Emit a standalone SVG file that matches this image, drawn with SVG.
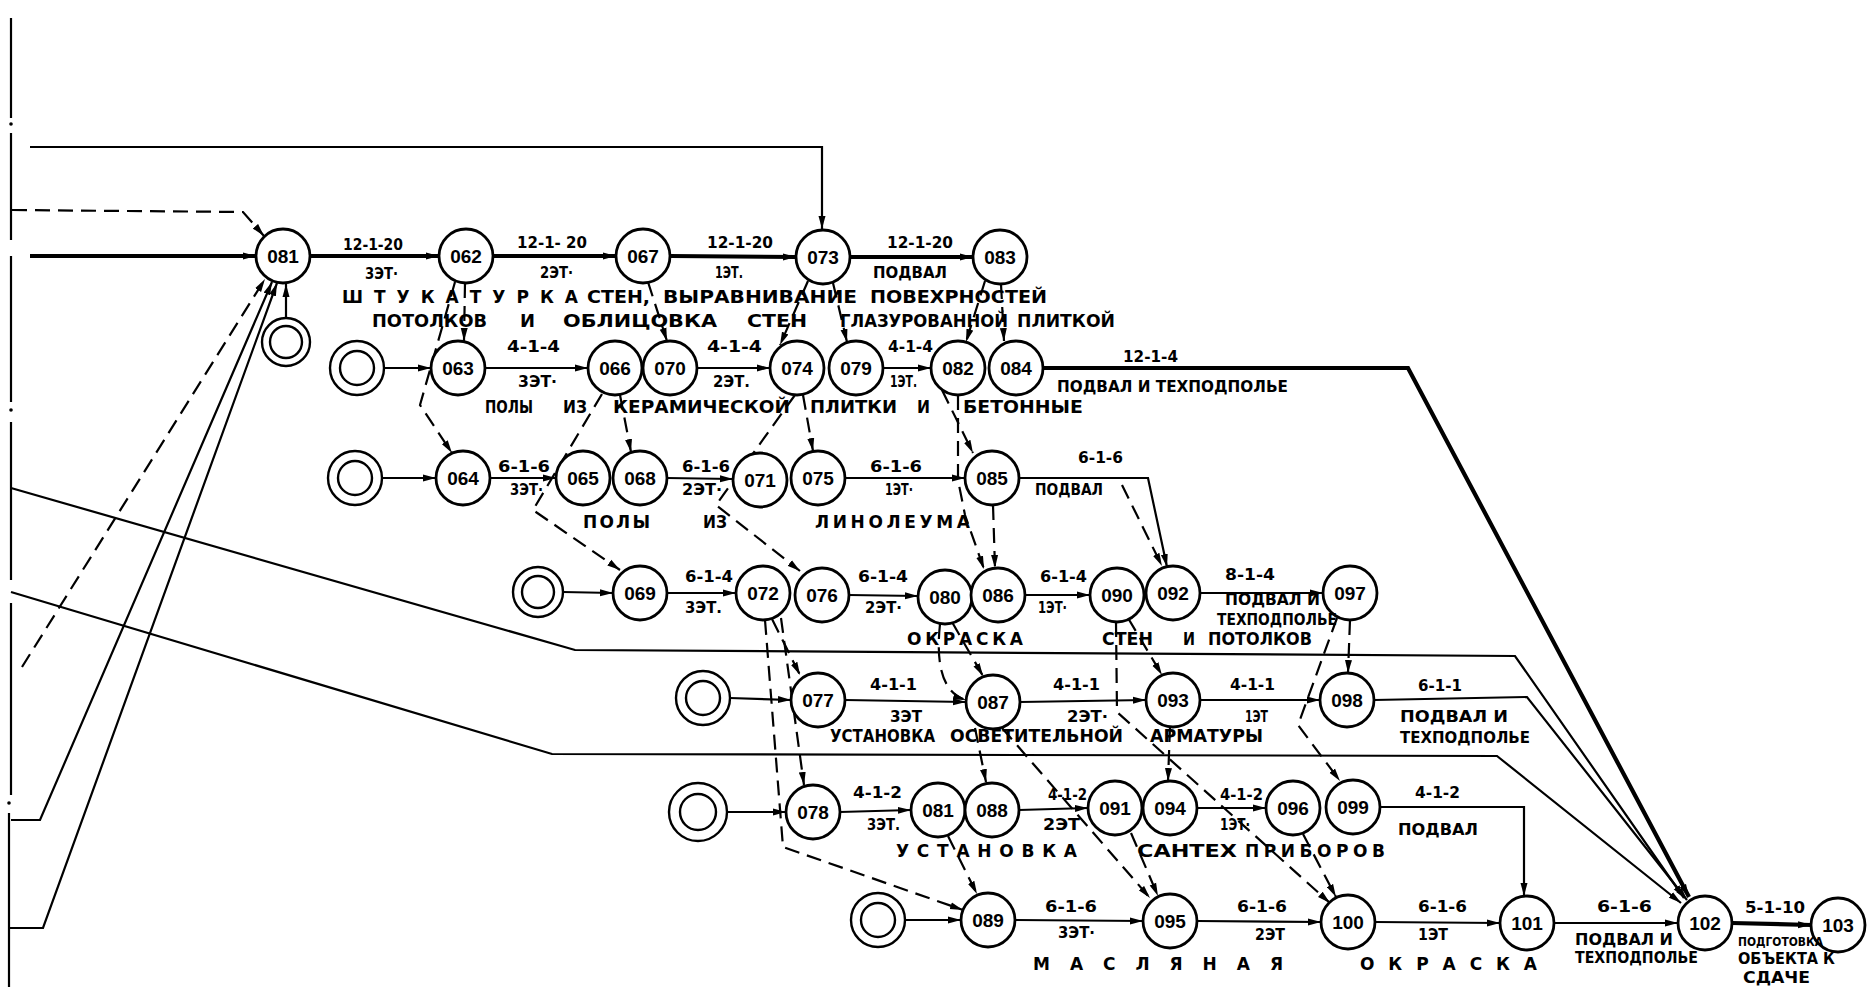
<svg xmlns="http://www.w3.org/2000/svg" width="1874" height="987" viewBox="0 0 1874 987">
<style>
.c{fill:none;stroke:#000;stroke-width:2.2}
.k{fill:none;stroke:#000;stroke-width:4.2}
.d{fill:none;stroke:#000;stroke-width:2.2;stroke-dasharray:15 8}
.n{fill:#fff;stroke:#000;stroke-width:2.8}
.s{fill:#fff;stroke:#000;stroke-width:2.4}
.nt{font-family:"Liberation Sans",Arial,sans-serif;font-weight:bold;font-size:19px;text-anchor:middle}
.l{font-family:"DejaVu Sans","Liberation Sans",sans-serif;font-weight:bold;font-size:15.5px}
.b{font-family:"DejaVu Sans","Liberation Sans",sans-serif;font-weight:bold;font-size:17px}
.m{font-family:"DejaVu Sans","Liberation Sans",sans-serif;font-weight:bold;font-size:12px}
</style>
<defs>
<marker id="a" markerUnits="userSpaceOnUse" markerWidth="14" markerHeight="8" refX="13" refY="4" orient="auto">
<path d="M0,0.5 L13,4 L0,7.5 z" fill="#000"/>
</marker>
</defs>
<rect width="1874" height="987" fill="#fff"/>
<g id="connectors">
<path class="c" d="M11,18 V118 M11,133 V240 M11,256 V402 M11,422 V580 M11,603 V795 M9,813 V987"/>
<circle cx="11" cy="124" r="1.8"/><circle cx="11" cy="410" r="1.8"/><circle cx="9" cy="803" r="1.8"/>
<path class="c" d="M30,147 H822 V229" marker-end="url(#a)"/>
<path class="d" d="M12,210 L243,212 L264,236" marker-end="url(#a)"/>
<path class="k" d="M30,256 H256" marker-end="url(#a)"/>
<path class="d" d="M22,667 L265,279" marker-end="url(#a)"/>
<path class="c" d="M11,820 H40 L272,282" marker-end="url(#a)"/>
<path class="c" d="M9,928 H43 L277,283" marker-end="url(#a)"/>
<path class="c" d="M11,488 L575,650 L1515,656 L1684,898" marker-end="url(#a)"/>
<path class="c" d="M11,592 L552,754 L1497,756 L1681,903" marker-end="url(#a)"/>
<path class="c" d="M286,318 V284" marker-end="url(#a)"/>
<path class="k" d="M310,256 H439" marker-end="url(#a)"/>
<path class="k" d="M493,256 H616" marker-end="url(#a)"/>
<path class="k" d="M670,256 L796,257" marker-end="url(#a)"/>
<path class="k" d="M850,257 H973" marker-end="url(#a)"/>
<path class="c" d="M384,368 H431" marker-end="url(#a)"/>
<path class="c" d="M485,368 H588" marker-end="url(#a)"/>
<path class="c" d="M697,368 H770" marker-end="url(#a)"/>
<path class="c" d="M882,368 H931" marker-end="url(#a)"/>
<path class="k" d="M1042,368 H1408 L1689,897" marker-end="url(#a)"/>
<path class="c" d="M382,478 H436" marker-end="url(#a)"/>
<path class="c" d="M490,478 H556" marker-end="url(#a)"/>
<path class="c" d="M667,478 L733,479" marker-end="url(#a)"/>
<path class="c" d="M845,478 H965" marker-end="url(#a)"/>
<path class="c" d="M1019,478 H1148 L1167,567" marker-end="url(#a)"/>
<path class="c" d="M563,592 L613,593" marker-end="url(#a)"/>
<path class="c" d="M667,593 H736" marker-end="url(#a)"/>
<path class="c" d="M849,595 L918,596" marker-end="url(#a)"/>
<path class="c" d="M1025,595 H1090" marker-end="url(#a)"/>
<path class="c" d="M1200,593 H1323" marker-end="url(#a)"/>
<path class="c" d="M730,698 L791,700" marker-end="url(#a)"/>
<path class="c" d="M845,700 L966,702" marker-end="url(#a)"/>
<path class="c" d="M1020,702 L1146,700" marker-end="url(#a)"/>
<path class="c" d="M1200,700 H1320" marker-end="url(#a)"/>
<path class="c" d="M1374,700 L1527,697 L1687,900" marker-end="url(#a)"/>
<path class="c" d="M727,812 H786" marker-end="url(#a)"/>
<path class="c" d="M840,812 L911,810" marker-end="url(#a)"/>
<path class="c" d="M1019,810 L1088,808" marker-end="url(#a)"/>
<path class="c" d="M1197,808 H1266" marker-end="url(#a)"/>
<path class="c" d="M1380,807 H1524 V896" marker-end="url(#a)"/>
<path class="c" d="M905,920 H961" marker-end="url(#a)"/>
<path class="c" d="M1015,920 L1143,921" marker-end="url(#a)"/>
<path class="c" d="M1197,921 L1321,922" marker-end="url(#a)"/>
<path class="c" d="M1375,922 L1500,923" marker-end="url(#a)"/>
<path class="c" d="M1554,923 H1678" marker-end="url(#a)"/>
<path class="k" d="M1732,923 L1811,925" marker-end="url(#a)"/>
<path class="d" d="M465,283 L464,341" marker-end="url(#a)"/>
<path class="d" d="M455,282 L420,405 L452,453" marker-end="url(#a)"/>
<path class="d" d="M648,282 L667,341" marker-end="url(#a)"/>
<path class="d" d="M808,281 L780,345" marker-end="url(#a)"/>
<path class="d" d="M833,283 L847,342" marker-end="url(#a)"/>
<path class="d" d="M985,281 L966,342" marker-end="url(#a)"/>
<path class="d" d="M1001,284 L1004,341" marker-end="url(#a)"/>
<path class="d" d="M620,395 L631,452" marker-end="url(#a)"/>
<path class="d" d="M602,394 L533,510 L620,570" marker-end="url(#a)"/>
<path class="d" d="M803,395 L813,451" marker-end="url(#a)"/>
<path class="d" d="M795,395 L716,505 L800,571" marker-end="url(#a)"/>
<path class="d" d="M942,390 L973,453" marker-end="url(#a)"/>
<path class="d" d="M958,395 L958,480 L965,515 L984,569" marker-end="url(#a)"/>
<path class="d" d="M993,505 L995,568" marker-end="url(#a)"/>
<path class="d" d="M1122,485 L1162,566" marker-end="url(#a)"/>
<path class="d" d="M772,619 L800,675" marker-end="url(#a)"/>
<path class="d" d="M781,618 L804,785" marker-end="url(#a)"/>
<path class="d" d="M765,620 L783,847 L963,910" marker-end="url(#a)"/>
<path class="d" d="M952,622 L983,676" marker-end="url(#a)"/>
<path class="d" d="M940,624 Q933,690 966,700" marker-end="url(#a)"/>
<path class="d" d="M975,728 L986,782" marker-end="url(#a)"/>
<path class="d" d="M1002,728 L1150,898" marker-end="url(#a)"/>
<path class="d" d="M1128,618 L1162,675" marker-end="url(#a)"/>
<path class="d" d="M1116,622 L1117,712 L1330,903" marker-end="url(#a)"/>
<path class="d" d="M1170,727 L1168,781" marker-end="url(#a)"/>
<path class="d" d="M1350,620 L1348,673" marker-end="url(#a)"/>
<path class="d" d="M1337,618 L1298,725 L1340,781" marker-end="url(#a)"/>
<path class="d" d="M948,836 L977,894" marker-end="url(#a)"/>
<path class="d" d="M1131,833 L1158,896" marker-end="url(#a)"/>
<path class="d" d="M1303,834 L1336,897" marker-end="url(#a)"/>
</g>
<g id="starts">
<g id="s1"><circle class="s" cx="286" cy="342" r="24"/><circle class="s" cx="286" cy="342" r="16"/></g>
<g id="s2"><circle class="s" cx="357" cy="368" r="27"/><circle class="s" cx="357" cy="368" r="17"/></g>
<g id="s3"><circle class="s" cx="355" cy="478" r="27"/><circle class="s" cx="355" cy="478" r="17"/></g>
<g id="s4"><circle class="s" cx="538" cy="592" r="25"/><circle class="s" cx="538" cy="592" r="16"/></g>
<g id="s5"><circle class="s" cx="703" cy="698" r="27"/><circle class="s" cx="703" cy="698" r="17"/></g>
<g id="s6"><circle class="s" cx="698" cy="812" r="29"/><circle class="s" cx="698" cy="812" r="18"/></g>
<g id="s7"><circle class="s" cx="878" cy="920" r="27"/><circle class="s" cx="878" cy="920" r="17"/></g>
</g>
<g id="nodes">
<g id="n081a"><circle class="n" cx="283" cy="256" r="27"/><text class="nt" x="283" y="263">081</text></g>
<g id="n062"><circle class="n" cx="466" cy="256" r="27"/><text class="nt" x="466" y="263">062</text></g>
<g id="n067"><circle class="n" cx="643" cy="256" r="27"/><text class="nt" x="643" y="263">067</text></g>
<g id="n073"><circle class="n" cx="823" cy="257" r="27"/><text class="nt" x="823" y="264">073</text></g>
<g id="n083"><circle class="n" cx="1000" cy="257" r="27"/><text class="nt" x="1000" y="264">083</text></g>
<g id="n063"><circle class="n" cx="458" cy="368" r="27"/><text class="nt" x="458" y="375">063</text></g>
<g id="n066"><circle class="n" cx="615" cy="368" r="27"/><text class="nt" x="615" y="375">066</text></g>
<g id="n070"><circle class="n" cx="670" cy="368" r="27"/><text class="nt" x="670" y="375">070</text></g>
<g id="n074"><circle class="n" cx="797" cy="368" r="27"/><text class="nt" x="797" y="375">074</text></g>
<g id="n079"><circle class="n" cx="856" cy="368" r="27"/><text class="nt" x="856" y="375">079</text></g>
<g id="n082"><circle class="n" cx="958" cy="368" r="27"/><text class="nt" x="958" y="375">082</text></g>
<g id="n084"><circle class="n" cx="1016" cy="368" r="27"/><text class="nt" x="1016" y="375">084</text></g>
<g id="n064"><circle class="n" cx="463" cy="478" r="27"/><text class="nt" x="463" y="485">064</text></g>
<g id="n065"><circle class="n" cx="583" cy="478" r="27"/><text class="nt" x="583" y="485">065</text></g>
<g id="n068"><circle class="n" cx="640" cy="478" r="27"/><text class="nt" x="640" y="485">068</text></g>
<g id="n071"><circle class="n" cx="760" cy="480" r="27"/><text class="nt" x="760" y="487">071</text></g>
<g id="n075"><circle class="n" cx="818" cy="478" r="27"/><text class="nt" x="818" y="485">075</text></g>
<g id="n085"><circle class="n" cx="992" cy="478" r="27"/><text class="nt" x="992" y="485">085</text></g>
<g id="n069"><circle class="n" cx="640" cy="593" r="27"/><text class="nt" x="640" y="600">069</text></g>
<g id="n072"><circle class="n" cx="763" cy="593" r="27"/><text class="nt" x="763" y="600">072</text></g>
<g id="n076"><circle class="n" cx="822" cy="595" r="27"/><text class="nt" x="822" y="602">076</text></g>
<g id="n080"><circle class="n" cx="945" cy="597" r="27"/><text class="nt" x="945" y="604">080</text></g>
<g id="n086"><circle class="n" cx="998" cy="595" r="27"/><text class="nt" x="998" y="602">086</text></g>
<g id="n090"><circle class="n" cx="1117" cy="595" r="27"/><text class="nt" x="1117" y="602">090</text></g>
<g id="n092"><circle class="n" cx="1173" cy="593" r="27"/><text class="nt" x="1173" y="600">092</text></g>
<g id="n097"><circle class="n" cx="1350" cy="593" r="27"/><text class="nt" x="1350" y="600">097</text></g>
<g id="n077"><circle class="n" cx="818" cy="700" r="27"/><text class="nt" x="818" y="707">077</text></g>
<g id="n087"><circle class="n" cx="993" cy="702" r="27"/><text class="nt" x="993" y="709">087</text></g>
<g id="n093"><circle class="n" cx="1173" cy="700" r="27"/><text class="nt" x="1173" y="707">093</text></g>
<g id="n098"><circle class="n" cx="1347" cy="700" r="27"/><text class="nt" x="1347" y="707">098</text></g>
<g id="n078"><circle class="n" cx="813" cy="812" r="27"/><text class="nt" x="813" y="819">078</text></g>
<g id="n081b"><circle class="n" cx="938" cy="810" r="27"/><text class="nt" x="938" y="817">081</text></g>
<g id="n088"><circle class="n" cx="992" cy="810" r="27"/><text class="nt" x="992" y="817">088</text></g>
<g id="n091"><circle class="n" cx="1115" cy="808" r="27"/><text class="nt" x="1115" y="815">091</text></g>
<g id="n094"><circle class="n" cx="1170" cy="808" r="27"/><text class="nt" x="1170" y="815">094</text></g>
<g id="n096"><circle class="n" cx="1293" cy="808" r="27"/><text class="nt" x="1293" y="815">096</text></g>
<g id="n099"><circle class="n" cx="1353" cy="807" r="27"/><text class="nt" x="1353" y="814">099</text></g>
<g id="n089"><circle class="n" cx="988" cy="920" r="27"/><text class="nt" x="988" y="927">089</text></g>
<g id="n095"><circle class="n" cx="1170" cy="921" r="27"/><text class="nt" x="1170" y="928">095</text></g>
<g id="n100"><circle class="n" cx="1348" cy="922" r="27"/><text class="nt" x="1348" y="929">100</text></g>
<g id="n101"><circle class="n" cx="1527" cy="923" r="27"/><text class="nt" x="1527" y="930">101</text></g>
<g id="n102"><circle class="n" cx="1705" cy="923" r="27"/><text class="nt" x="1705" y="930">102</text></g>
<g id="n103"><circle class="n" cx="1838" cy="925" r="27"/><text class="nt" x="1838" y="932">103</text></g>
</g>
<g id="labels">
<text class="l" x="343" y="250" textLength="60" lengthAdjust="spacingAndGlyphs">12-1-20</text>
<text class="l" x="365" y="279" textLength="33" lengthAdjust="spacingAndGlyphs">3ЭТ·</text>
<text class="l" x="517" y="248" textLength="70" lengthAdjust="spacingAndGlyphs">12-1- 20</text>
<text class="l" x="540" y="278" textLength="33" lengthAdjust="spacingAndGlyphs">2ЭТ·</text>
<text class="l" x="707" y="248" textLength="66" lengthAdjust="spacingAndGlyphs">12-1-20</text>
<text class="l" x="715" y="278" textLength="28" lengthAdjust="spacingAndGlyphs">1ЭТ.</text>
<text class="l" x="887" y="248" textLength="66" lengthAdjust="spacingAndGlyphs">12-1-20</text>
<text class="l" x="873" y="278" textLength="74" lengthAdjust="spacingAndGlyphs">ПОДВАЛ</text>
<text class="b" x="342" y="303" textLength="236" lengthAdjust="spacing">ШТУКАТУРКА</text>
<text class="b" x="587" y="303" textLength="63" lengthAdjust="spacingAndGlyphs">СТЕН,</text>
<text class="b" x="663" y="303" textLength="194" lengthAdjust="spacingAndGlyphs">ВЫРАВНИВАНИЕ</text>
<text class="b" x="870" y="303" textLength="177" lengthAdjust="spacingAndGlyphs">ПОВЕХРНОСТЕЙ</text>
<text class="b" x="372" y="327" textLength="115" lengthAdjust="spacingAndGlyphs">ПОТОЛКОВ</text>
<text class="b" x="520" y="327" textLength="15" lengthAdjust="spacingAndGlyphs">И</text>
<text class="b" x="563" y="327" textLength="154" lengthAdjust="spacingAndGlyphs">ОБЛИЦОВКА</text>
<text class="b" x="747" y="327" textLength="60" lengthAdjust="spacingAndGlyphs">СТЕН</text>
<text class="b" x="840" y="327" textLength="168" lengthAdjust="spacingAndGlyphs">ГЛАЗУРОВАННОЙ</text>
<text class="b" x="1017" y="327" textLength="98" lengthAdjust="spacingAndGlyphs">ПЛИТКОЙ</text>
<text class="l" x="507" y="352" textLength="53" lengthAdjust="spacingAndGlyphs">4-1-4</text>
<text class="l" x="518" y="387" textLength="39" lengthAdjust="spacingAndGlyphs">3ЭТ·</text>
<text class="l" x="707" y="352" textLength="55" lengthAdjust="spacingAndGlyphs">4-1-4</text>
<text class="l" x="713" y="387" textLength="37" lengthAdjust="spacingAndGlyphs">2ЭТ.</text>
<text class="l" x="888" y="352" textLength="45" lengthAdjust="spacingAndGlyphs">4-1-4</text>
<text class="l" x="890" y="387" textLength="27" lengthAdjust="spacingAndGlyphs">1ЭТ.</text>
<text class="l" x="1123" y="362" textLength="55" lengthAdjust="spacingAndGlyphs">12-1-4</text>
<text class="l" x="1057" y="392" textLength="231" lengthAdjust="spacingAndGlyphs">ПОДВАЛ И ТЕХПОДПОЛЬЕ</text>
<text class="b" x="485" y="413" textLength="48" lengthAdjust="spacingAndGlyphs">ПОЛЫ</text>
<text class="b" x="563" y="413" textLength="24" lengthAdjust="spacingAndGlyphs">ИЗ</text>
<text class="b" x="613" y="413" textLength="177" lengthAdjust="spacingAndGlyphs">КЕРАМИЧЕСКОЙ</text>
<text class="b" x="810" y="413" textLength="87" lengthAdjust="spacingAndGlyphs">ПЛИТКИ</text>
<text class="b" x="917" y="413" textLength="13" lengthAdjust="spacingAndGlyphs">И</text>
<text class="b" x="963" y="413" textLength="120" lengthAdjust="spacingAndGlyphs">БЕТОННЫЕ</text>
<text class="l" x="498" y="472" textLength="52" lengthAdjust="spacingAndGlyphs">6-1-6</text>
<text class="l" x="510" y="495" textLength="33" lengthAdjust="spacingAndGlyphs">3ЭТ·</text>
<text class="l" x="682" y="472" textLength="48" lengthAdjust="spacingAndGlyphs">6-1-6</text>
<text class="l" x="682" y="495" textLength="40" lengthAdjust="spacingAndGlyphs">2ЭТ·</text>
<text class="l" x="870" y="472" textLength="52" lengthAdjust="spacingAndGlyphs">6-1-6</text>
<text class="l" x="885" y="495" textLength="28" lengthAdjust="spacingAndGlyphs">1ЭТ·</text>
<text class="l" x="1078" y="463" textLength="45" lengthAdjust="spacingAndGlyphs">6-1-6</text>
<text class="l" x="1035" y="495" textLength="68" lengthAdjust="spacingAndGlyphs">ПОДВАЛ</text>
<text class="b" x="583" y="528" textLength="67" lengthAdjust="spacing">ПОЛЫ</text>
<text class="b" x="703" y="528" textLength="24" lengthAdjust="spacingAndGlyphs">ИЗ</text>
<text class="b" x="815" y="528" textLength="155" lengthAdjust="spacing">ЛИНОЛЕУМА</text>
<text class="l" x="685" y="582" textLength="48" lengthAdjust="spacingAndGlyphs">6-1-4</text>
<text class="l" x="685" y="613" textLength="37" lengthAdjust="spacingAndGlyphs">3ЭТ.</text>
<text class="l" x="858" y="582" textLength="50" lengthAdjust="spacingAndGlyphs">6-1-4</text>
<text class="l" x="865" y="613" textLength="37" lengthAdjust="spacingAndGlyphs">2ЭТ·</text>
<text class="l" x="1040" y="582" textLength="47" lengthAdjust="spacingAndGlyphs">6-1-4</text>
<text class="l" x="1038" y="613" textLength="29" lengthAdjust="spacingAndGlyphs">1ЭТ·</text>
<text class="l" x="1225" y="580" textLength="50" lengthAdjust="spacingAndGlyphs">8-1-4</text>
<text class="l" x="1225" y="605" textLength="95" lengthAdjust="spacingAndGlyphs">ПОДВАЛ И</text>
<text class="l" x="1217" y="625" textLength="120" lengthAdjust="spacingAndGlyphs">ТЕХПОДПОЛЬЕ</text>
<text class="b" x="907" y="645" textLength="116" lengthAdjust="spacing">ОКРАСКА</text>
<text class="b" x="1102" y="645" textLength="51" lengthAdjust="spacingAndGlyphs">СТЕН</text>
<text class="b" x="1183" y="645" textLength="12" lengthAdjust="spacingAndGlyphs">И</text>
<text class="b" x="1208" y="645" textLength="104" lengthAdjust="spacingAndGlyphs">ПОТОЛКОВ</text>
<text class="l" x="870" y="690" textLength="47" lengthAdjust="spacingAndGlyphs">4-1-1</text>
<text class="l" x="890" y="722" textLength="32" lengthAdjust="spacingAndGlyphs">3ЭТ</text>
<text class="l" x="1053" y="690" textLength="47" lengthAdjust="spacingAndGlyphs">4-1-1</text>
<text class="l" x="1067" y="722" textLength="41" lengthAdjust="spacingAndGlyphs">2ЭТ·</text>
<text class="l" x="1230" y="690" textLength="45" lengthAdjust="spacingAndGlyphs">4-1-1</text>
<text class="l" x="1245" y="722" textLength="23" lengthAdjust="spacingAndGlyphs">1ЭТ</text>
<text class="l" x="1418" y="691" textLength="44" lengthAdjust="spacingAndGlyphs">6-1-1</text>
<text class="l" x="1400" y="722" textLength="108" lengthAdjust="spacingAndGlyphs">ПОДВАЛ И</text>
<text class="l" x="1400" y="743" textLength="130" lengthAdjust="spacingAndGlyphs">ТЕХПОДПОЛЬЕ</text>
<text class="b" x="830" y="742" textLength="105" lengthAdjust="spacingAndGlyphs">УСТАНОВКА</text>
<text class="b" x="950" y="742" textLength="173" lengthAdjust="spacingAndGlyphs">ОСВЕТИТЕЛЬНОЙ</text>
<text class="b" x="1150" y="742" textLength="113" lengthAdjust="spacingAndGlyphs">АРМАТУРЫ</text>
<text class="l" x="853" y="798" textLength="49" lengthAdjust="spacingAndGlyphs">4-1-2</text>
<text class="l" x="867" y="830" textLength="33" lengthAdjust="spacingAndGlyphs">3ЭТ.</text>
<text class="l" x="1048" y="800" textLength="39" lengthAdjust="spacingAndGlyphs">4-1-2</text>
<text class="l" x="1043" y="830" textLength="37" lengthAdjust="spacingAndGlyphs">2ЭТ</text>
<text class="l" x="1220" y="800" textLength="43" lengthAdjust="spacingAndGlyphs">4-1-2</text>
<text class="l" x="1220" y="830" textLength="30" lengthAdjust="spacingAndGlyphs">1ЭТ·</text>
<text class="l" x="1415" y="798" textLength="45" lengthAdjust="spacingAndGlyphs">4-1-2</text>
<text class="l" x="1398" y="835" textLength="80" lengthAdjust="spacingAndGlyphs">ПОДВАЛ</text>
<text class="b" x="896" y="857" textLength="181" lengthAdjust="spacing">УСТАНОВКА</text>
<text class="b" x="1137" y="857" textLength="100" lengthAdjust="spacingAndGlyphs">САНТЕХ</text>
<text class="b" x="1245" y="857" textLength="140" lengthAdjust="spacing">ПРИБОРОВ</text>
<text class="l" x="1045" y="912" textLength="52" lengthAdjust="spacingAndGlyphs">6-1-6</text>
<text class="l" x="1058" y="938" textLength="37" lengthAdjust="spacingAndGlyphs">3ЭТ·</text>
<text class="l" x="1237" y="912" textLength="50" lengthAdjust="spacingAndGlyphs">6-1-6</text>
<text class="l" x="1255" y="940" textLength="30" lengthAdjust="spacingAndGlyphs">2ЭТ</text>
<text class="l" x="1418" y="912" textLength="49" lengthAdjust="spacingAndGlyphs">6-1-6</text>
<text class="l" x="1418" y="940" textLength="30" lengthAdjust="spacingAndGlyphs">1ЭТ</text>
<text class="l" x="1597" y="912" textLength="55" lengthAdjust="spacingAndGlyphs">6-1-6</text>
<text class="l" x="1575" y="945" textLength="98" lengthAdjust="spacingAndGlyphs">ПОДВАЛ И</text>
<text class="l" x="1575" y="963" textLength="123" lengthAdjust="spacingAndGlyphs">ТЕХПОДПОЛЬЕ</text>
<text class="l" x="1745" y="913" textLength="60" lengthAdjust="spacingAndGlyphs">5-1-10</text>
<text class="m" x="1738" y="946" textLength="85" lengthAdjust="spacingAndGlyphs">ПОДГОТОВКА</text>
<text class="l" x="1738" y="964" textLength="97" lengthAdjust="spacingAndGlyphs">ОБЪЕКТА К</text>
<text class="l" x="1743" y="983" textLength="67" lengthAdjust="spacingAndGlyphs">СДАЧЕ</text>
<text class="b" x="1033" y="970" textLength="250" lengthAdjust="spacing">МАСЛЯНАЯ</text>
<text class="b" x="1360" y="970" textLength="177" lengthAdjust="spacing">ОКРАСКА</text>
</g>
</svg>
